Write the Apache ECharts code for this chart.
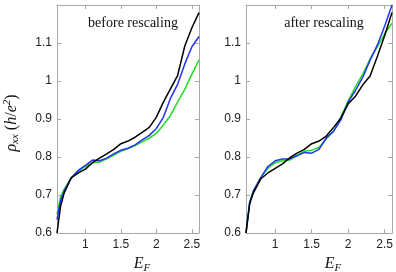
<!DOCTYPE html>
<html><head><meta charset="utf-8">
<script src="https://cdn.jsdelivr.net/npm/echarts@6/dist/echarts.min.js"></script>
<style>html,body{margin:0;padding:0;background:#fff}#c{width:396px;height:272px}</style>
</head><body><div id="c"></div>
<script>
const energy = [0.6,0.65,0.7,0.8,0.9,1.0,1.1,1.2,1.3,1.4,1.5,1.6,1.7,1.8,1.9,2.0,2.1,2.2,2.3,2.4,2.5,2.6];
const beforeBlack = [0.60,0.67,0.705,0.745,0.758,0.768,0.785,0.797,0.808,0.820,0.835,0.842,0.852,0.865,0.878,0.905,0.945,0.980,1.015,1.092,1.140,1.180];
const beforeBlue  = [0.635,0.685,0.71,0.745,0.765,0.778,0.792,0.790,0.797,0.808,0.818,0.823,0.832,0.845,0.857,0.875,0.905,0.955,0.992,1.045,1.090,1.117];
const beforeGreen = [0.65,0.695,0.715,0.745,0.762,0.775,0.785,0.787,0.795,0.805,0.815,0.822,0.830,0.840,0.850,0.862,0.885,0.910,0.945,0.978,1.018,1.055];
const afterBlack  = [0.60,0.677,0.705,0.742,0.758,0.770,0.782,0.798,0.810,0.820,0.835,0.842,0.855,0.878,0.903,0.940,0.960,0.990,1.013,1.065,1.120,1.180];
const afterBlue   = [0.60,0.68,0.71,0.745,0.775,0.790,0.795,0.795,0.803,0.812,0.810,0.820,0.850,0.868,0.898,0.945,0.975,1.010,1.055,1.095,1.145,1.200];
const afterGreen  = [0.60,0.68,0.71,0.745,0.770,0.785,0.790,0.792,0.805,0.815,0.818,0.825,0.848,0.868,0.905,0.948,0.985,1.018,1.058,1.090,1.125,1.152];
const xTicks = [1, 1.5, 2, 2.5];
const yTicks = [0.6, 0.7, 0.8, 0.9, 1.0, 1.1];
const panelTitles = ['before rescaling', 'after rescaling'];

const axisColor = '#a8a8a8';
const labelFont = {fontFamily:'Liberation Sans, Arial, sans-serif', fontSize:12, color:'#222'};
function fmt(v){ return String(+(+v).toFixed(2)); }
function xAx(grid, pos, withLabel){
  return {type:'value', gridIndex:grid, position:pos, min:0.6, max:2.6, interval:0.1,
    axisLine:{show:true, onZero:false, lineStyle:{color:axisColor, width:1}},
    axisTick:{show:true, inside:true, length:4, customValues:xTicks, lineStyle:{color:axisColor}},
    axisLabel:{show:withLabel, customValues:xTicks, formatter:fmt, margin:6, ...labelFont},
    splitLine:{show:false},
    name: withLabel ? '{i|E}{s|F}' : '', nameLocation:'middle', nameGap:19,
    nameTextStyle:{padding:[0,0,0,28], rich:{
      i:{fontFamily:'Liberation Serif, serif', fontStyle:'italic', fontSize:16, color:'#111'},
      s:{fontFamily:'Liberation Serif, serif', fontStyle:'italic', fontSize:11, color:'#111', padding:[8,0,0,0]}}}
  };
}
function yAx(grid, pos, withLabel, withName){
  return {type:'value', gridIndex:grid, position:pos, min:0.6, max:1.2, interval:0.1,
    axisLine:{show:true, onZero:false, lineStyle:{color:axisColor, width:1}},
    axisTick:{show:true, inside:true, length:4, customValues:yTicks, lineStyle:{color:axisColor}},
    axisLabel:{show:withLabel, customValues:yTicks, formatter:fmt, margin:5, ...labelFont},
    splitLine:{show:false},
    name: withName ? '{i|ρ}{s|xx}{n| (}{i|h}{n|/}{i|e}{p|2}{n|)}' : '', nameLocation:'middle', nameGap:36, nameRotate:90,
    nameTextStyle:{padding:[0,8,0,0], rich:{
      i:{fontFamily:'Liberation Serif, serif', fontStyle:'italic', fontSize:16, color:'#111'},
      n:{fontFamily:'Liberation Serif, serif', fontSize:16, color:'#111'},
      s:{fontFamily:'Liberation Serif, serif', fontStyle:'italic', fontSize:11, color:'#111', padding:[8,0,0,0]},
      p:{fontFamily:'Liberation Serif, serif', fontStyle:'italic', fontSize:11, color:'#111', padding:[0,0,8,0]}}}
  };
}
function ser(x, y, vals, color){
  return {type:'line', xAxisIndex:x, yAxisIndex:y, data:energy.map((e,i)=>[e, vals[i]]),
    showSymbol:false, symbol:'none', lineStyle:{color:color, width:1.5}, itemStyle:{color:color}, animation:false};
}
const green = '#22dd22', blue = '#2233ee', black = '#000000';
const chart = echarts.init(document.getElementById('c'), null, {renderer:'canvas'});
chart.setOption({
  animation:false,
  title:[
    {text:panelTitles[0], left:128, top:11, textAlign:'center', textStyle:{fontFamily:'Liberation Serif, serif', fontWeight:'normal', fontSize:14, color:'#111'}},
    {text:panelTitles[1], left:319, top:11, textAlign:'center', textStyle:{fontFamily:'Liberation Serif, serif', fontWeight:'normal', fontSize:14, color:'#111'}}
  ],
  grid:[
    {left:57, top:5, width:142, height:228, containLabel:false, outerBoundsMode:'none'},
    {left:246, top:5, width:146, height:228, containLabel:false, outerBoundsMode:'none'}
  ],
  xAxis:[xAx(0,'bottom',true), xAx(0,'top',false), xAx(1,'bottom',true), xAx(1,'top',false)],
  yAxis:[yAx(0,'left',true,true), yAx(0,'right',false,false), yAx(1,'left',true,false), yAx(1,'right',false,false)],
  series:[
    ser(0,0,beforeGreen,green), ser(0,0,beforeBlue,blue), ser(0,0,beforeBlack,black),
    ser(2,2,afterGreen,green), ser(2,2,afterBlue,blue), ser(2,2,afterBlack,black)
  ]
});
</script></body></html>
